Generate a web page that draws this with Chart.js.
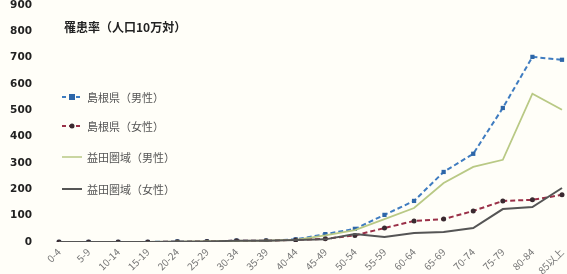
<!DOCTYPE html>
<html>
<head>
<meta charset="utf-8">
<script src="https://cdn.jsdelivr.net/npm/chart.js@4"></script>
<style>
  html, body { margin: 0; padding: 0; background: #fffef8; }
  #wrap { position: relative; width: 567px; height: 274px; }
  canvas { display: block; }
  .lbl { position: absolute; font-family: "Noto Sans CJK JP", sans-serif; white-space: nowrap; }
  .title { left: 64px; top: 18px; font-size: 12px; font-weight: bold; color: #222; }
  .item { left: 62px; font-size: 11px; color: #555; display: flex; align-items: center; }
  .item svg { margin-right: 5px; }
</style>
</head>
<body>
<div id="wrap">
  <canvas id="c" width="567" height="274"></canvas>
  <div class="lbl title">罹患率（人口10万対）</div>
  <div class="lbl item" style="top:89px"><svg width="20" height="8"><line x1="0" y1="4" x2="20" y2="4" stroke="#3f7cc0" stroke-width="2" stroke-dasharray="4,3"/><rect x="7" y="1" width="6" height="6" fill="#2d66a8"/></svg>島根県（男性）</div>
  <div class="lbl item" style="top:118px"><svg width="20" height="8"><line x1="0" y1="4" x2="20" y2="4" stroke="#9a3048" stroke-width="2" stroke-dasharray="4,3"/><circle cx="10" cy="4" r="2.5" fill="#3a2a30"/></svg>島根県（女性）</div>
  <div class="lbl item" style="top:149px"><svg width="20" height="8"><line x1="0" y1="4" x2="20" y2="4" stroke="#b9c985" stroke-width="1.5"/></svg>益田圏域（男性）</div>
  <div class="lbl item" style="top:181px"><svg width="20" height="8"><line x1="0" y1="4" x2="20" y2="4" stroke="#555" stroke-width="2"/></svg>益田圏域（女性）</div>
</div>
<script>
// age groups and rates (per 100,000)
const ageGroups = ['0-4','5-9','10-14','15-19','20-24','25-29','30-34','35-39','40-44','45-49','50-54','55-59','60-64','65-69','70-74','75-79','80-84','85以上'];
const shimaneMale   = [0,0,0,0,2,2,5,5,10,30,50,103,156,266,335,509,703,692];
const shimaneFemale = [0,0,0,0,1,2,5,5,8,12,25,53,80,87,118,156,160,179];
const masudaMale    = [0,0,0,0,1,2,4,5,8,25,45,87,129,224,285,312,563,502];
const masudaFemale  = [0,0,0,0,1,2,5,5,8,10,30,19,34,38,53,125,133,205];
const yTicks = [0,100,200,300,400,500,600,700,800,900];

const bgPlugin = {
  id: 'bg',
  beforeDraw(chart) {
    const ctx = chart.ctx;
    ctx.save();
    ctx.fillStyle = '#fffef8';
    ctx.fillRect(0, 0, chart.width, chart.height);
    ctx.restore();
  }
};

new Chart(document.getElementById('c'), {
  type: 'line',
  data: {
    labels: ageGroups,
    datasets: [
      {
        label: '益田圏域（女性）',
        data: masudaFemale,
        borderColor: '#555555',
        borderWidth: 2,
        pointRadius: 0,
        tension: 0
      },
      {
        label: '益田圏域（男性）',
        data: masudaMale,
        borderColor: '#b9c985',
        borderWidth: 1.8,
        pointRadius: 0,
        tension: 0
      },
      {
        label: '島根県（女性）',
        data: shimaneFemale,
        borderColor: '#9a3048',
        borderWidth: 2,
        borderDash: [5, 3],
        pointStyle: 'circle',
        pointRadius: 2.5,
        pointBackgroundColor: '#3a2a30',
        pointBorderWidth: 0,
        tension: 0
      },
      {
        label: '島根県（男性）',
        data: shimaneMale,
        borderColor: '#3f7cc0',
        borderWidth: 2,
        borderDash: [5, 3],
        pointStyle: 'rect',
        pointRadius: 3,
        pointBackgroundColor: '#2d66a8',
        pointBorderWidth: 0,
        tension: 0
      }
    ]
  },
  options: {
    responsive: false,
    animation: false,
    layout: { padding: { top: 5, right: 5, left: 4, bottom: 0 } },
    plugins: {
      legend: { display: false },
      tooltip: { enabled: false }
    },
    scales: {
      x: {
        offset: false,
        afterFit: s => { s.height = 32; s.paddingTop = 0; s.paddingRight = 0; s.paddingLeft = 0; },
        grid: { display: false, drawTicks: false },
        border: { display: false },
        ticks: {
          color: '#777',
          font: { family: 'Noto Sans CJK JP', size: 10 },
          minRotation: 45,
          maxRotation: 45,
          padding: 4,
          autoSkip: false
        }
      },
      y: {
        min: 0,
        max: 900,
        afterBuildTicks: s => { s.ticks = yTicks.map(v => ({ value: v })); },
        afterFit: s => { s.width = 55; s.paddingTop = 0; s.paddingBottom = 0; },
        grid: { display: false, drawTicks: false },
        border: { display: false },
        ticks: {
          color: '#222',
          font: { family: 'DejaVu Sans', size: 10.5, weight: 'bold' },
          padding: 27
        }
      }
    }
  },
  plugins: [bgPlugin]
});
</script>
</body>
</html>
